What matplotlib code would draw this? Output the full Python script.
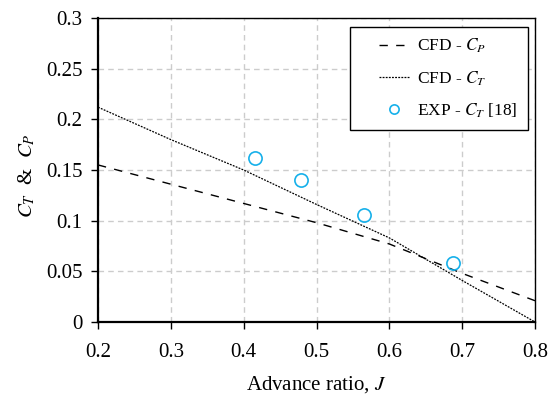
import matplotlib
matplotlib.use("Agg")
import matplotlib.pyplot as plt
from matplotlib.legend_handler import HandlerLine2D

plt.rcParams['font.family'] = ['Liberation Serif', 'DejaVu Serif']
plt.rcParams['mathtext.fontset'] = 'stix'

J = [0.2, 0.3, 0.4, 0.5, 0.6, 0.7, 0.8]
cfd_cp = [0.155, 0.136, 0.117, 0.098, 0.077, 0.048, 0.021]
cfd_ct = [0.212, 0.180, 0.150, 0.116, 0.083, 0.041, 0.0]
exp_j = [0.415, 0.479, 0.565, 0.688]
exp_ct = [0.162, 0.140, 0.106, 0.058]

xticks = [0.2, 0.3, 0.4, 0.5, 0.6, 0.7, 0.8]
xticklabels = ['0.2', '0.3', '0.4', '0.5', '0.6', '0.7', '0.8']
yticks = [0, 0.05, 0.1, 0.15, 0.2, 0.25, 0.3]
yticklabels = ['0', '0.05', '0.1', '0.15', '0.2', '0.25', '0.3']


class RightHandler(HandlerLine2D):
    def __init__(self, frac=0.5, **kw):
        super().__init__(**kw)
        self.frac = frac

    def create_artists(self, legend, orig_handle, xdescent, ydescent, width,
                       height, fontsize, trans):
        w2 = width * self.frac
        return super().create_artists(legend, orig_handle, xdescent - (width - w2),
                                      ydescent, w2, height, fontsize, trans)


fig = plt.figure(figsize=(5.58, 3.94), dpi=100)
ax = fig.add_axes([98/558, 1-322/394, (535-98)/558, (322-18)/394])

l1, = ax.plot(J, cfd_cp, color='black', lw=1.0, dashes=(6, 6), label=r'CFD - $C_P$')
l2, = ax.plot(J, cfd_ct, color='black', lw=0.9, dashes=(1.5, 1.0), label=r'CFD - $C_T$')
l3, = ax.plot(exp_j, exp_ct, ls='none', marker='o', ms=9.5, mfc='none', mec='#16b0ea',
              mew=1.2, label=r'EXP - $C_T$ [18]')

ax.set_xlim(0.2, 0.8)
ax.set_ylim(0, 0.3)
ax.set_xticks(xticks)
ax.set_xticklabels(xticklabels)
ax.set_yticks(yticks)
ax.set_yticklabels(yticklabels)
ax.tick_params(labelsize=15, direction='out', length=5, width=1.0, colors='black')
ax.tick_params(axis='x', pad=10)
ax.tick_params(axis='y', pad=6)
ax.grid(True, color='#cccccc', ls=(0, (4, 3)), lw=1.0)
ax.set_axisbelow(True)

for s in ['left', 'bottom']:
    ax.spines[s].set_linewidth(1.6)
for s in ['top', 'right']:
    ax.spines[s].set_linewidth(1.0)

ax.set_xlabel(r'Advance ratio, $J$', fontsize=15, labelpad=9)
ax.set_ylabel(r'$C_T$  &  $C_P$', fontsize=15)
ax.yaxis.set_label_coords(-0.14, 0.48)

hm = {l1: RightHandler(0.62), l2: RightHandler(0.62), l3: RightHandler(0.62)}
leg = ax.legend(handles=[l1, l2, l3], handler_map=hm,
                loc='upper right', bbox_to_anchor=(0.983, 0.972), fontsize=12.5,
                frameon=True, fancybox=False, edgecolor='black', framealpha=1,
                handlelength=2.8, handletextpad=0.46, labelspacing=0.8,
                borderpad=0.6, borderaxespad=0.0, markerscale=0.7)
leg.get_frame().set_linewidth(1.0)

fig.savefig('out.png', dpi=100)
